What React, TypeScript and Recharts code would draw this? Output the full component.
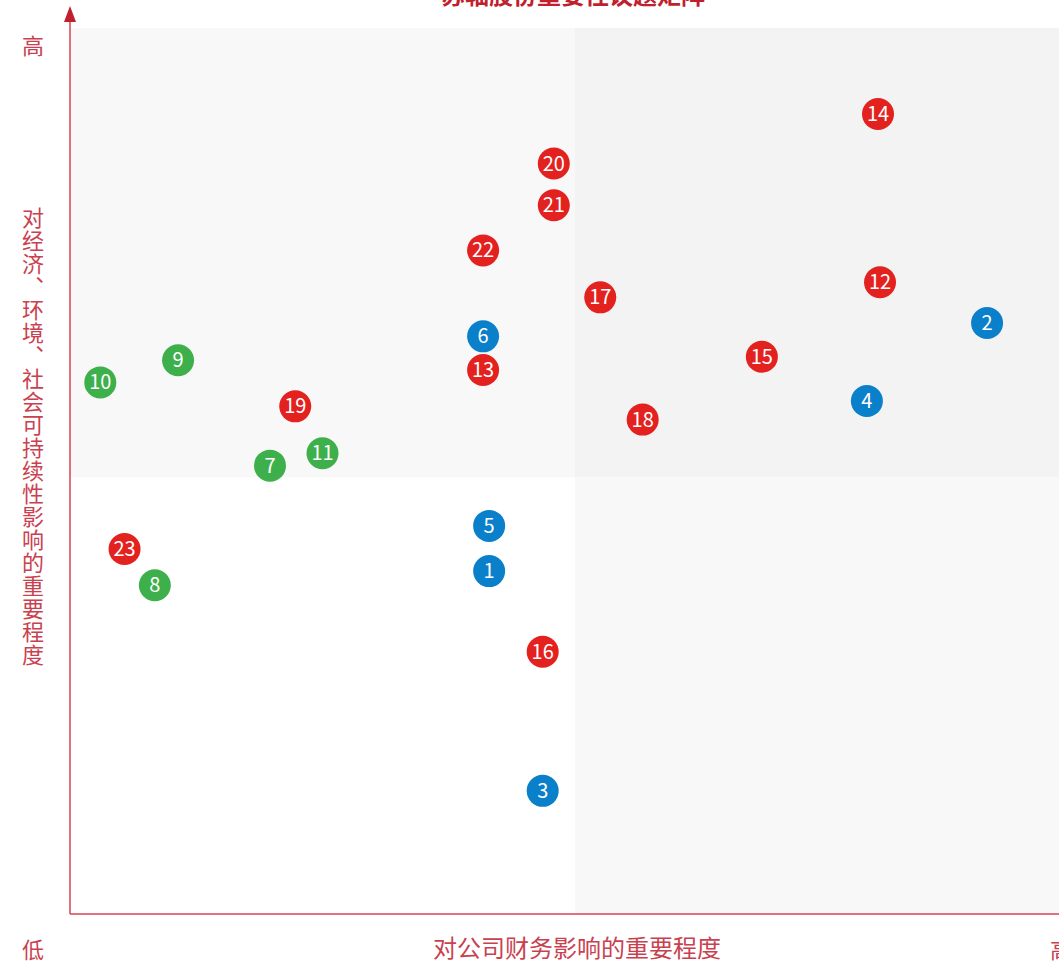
import { ReferenceArea, Scatter, ScatterChart, XAxis, YAxis } from "recharts";

const FONT = '"Noto Sans CJK SC", "Noto Sans", sans-serif';

const TITULO = "苏轴股份重要性议题矩阵";
const EJE_X = "对公司财务影响的重要程度";
const EJE_Y = "对经济、环境、社会可持续性影响的重要程度";
const ALTO = "高";
const BAJO = "低";

// número de tema, impacto financiero (x), impacto de sostenibilidad (y), grupo
const ids = [1, 2, 3, 4, 5, 6, 7, 8, 9, 10, 11, 12, 13, 14, 15, 16, 17, 18, 19, 20, 21, 22, 23];
const xValues = [41.5, 90.8, 46.8, 78.9, 41.5, 40.9, 19.8, 8.4, 10.7, 3.0, 25.0, 80.2, 40.9, 80.0, 68.5, 46.8, 52.5, 56.7, 22.3, 47.9, 47.9, 40.9, 5.4];
const yValues = [38.7, 66.7, 13.9, 57.9, 43.8, 65.2, 50.6, 37.1, 62.5, 60.0, 52.0, 71.3, 61.4, 90.3, 62.9, 29.6, 69.6, 55.8, 57.3, 84.7, 80.0, 74.9, 41.2];
const grupos = [
  "azul", "azul", "azul", "azul", "azul", "azul",
  "verde", "verde", "verde", "verde", "verde",
  "rojo", "rojo", "rojo", "rojo", "rojo", "rojo", "rojo", "rojo", "rojo", "rojo", "rojo", "rojo",
];

const DIVISION_X = 50;
const DIVISION_Y = 49.3;

const COLOR_GRUPO: Record<string, string> = {
  azul: "#0a7fca",
  verde: "#3db04b",
  rojo: "#e3211f",
};

const puntos = ids.map((id, i) => ({ id, x: xValues[i], y: yValues[i], grupo: grupos[i] }));

const ROJO_EJE = "#d64452";
const ROJO_TEXTO = "#c9414f";

function Burbuja(props: any) {
  const { cx, cy, payload, fill } = props;
  if (cx == null || cy == null) return null;
  return (
    <g>
      <circle cx={cx} cy={cy} r={16} fill={fill} />
      <text
        x={cx}
        y={cy + 7}
        textAnchor="middle"
        fill="#fff"
        fontSize={20}
        fontFamily={FONT}
      >
        {payload.id}
      </text>
    </g>
  );
}

export default function App() {
  return (
    <div
      style={{
        position: "absolute",
        left: 0,
        top: 0,
        width: 1059,
        height: 964,
        overflow: "hidden",
        background: "#fff",
        fontFamily: FONT,
      }}
    >
      <ScatterChart
        width={1100}
        height={964}
        margin={{ top: 28, left: 70, right: 20, bottom: 50 }}
      >
        <XAxis type="number" dataKey="x" domain={[0, 100]} hide />
        <YAxis type="number" dataKey="y" domain={[0, 100]} hide />
        <ReferenceArea x1={0} x2={DIVISION_X} y1={DIVISION_Y} y2={100} fill="#f8f8f8" fillOpacity={1} stroke="none" />
        <ReferenceArea x1={DIVISION_X} x2={100} y1={DIVISION_Y} y2={100} fill="#f3f3f3" fillOpacity={1} stroke="none" />
        <ReferenceArea x1={DIVISION_X} x2={100} y1={0} y2={DIVISION_Y} fill="#f8f8f8" fillOpacity={1} stroke="none" />
        {Object.keys(COLOR_GRUPO).map((g) => (
          <Scatter
            key={g}
            data={puntos.filter((p) => p.grupo === g)}
            fill={COLOR_GRUPO[g]}
            shape={<Burbuja />}
            isAnimationActive={false}
          />
        ))}
      </ScatterChart>

      <svg
        width={1059}
        height={964}
        style={{ position: "absolute", left: 0, top: 0, pointerEvents: "none" }}
      >
        <text
          x={573}
          y={4}
          textAnchor="middle"
          fontSize={24}
          fontWeight="bold"
          fill="#c01f2f"
          fontFamily={FONT}
        >
          {TITULO}
        </text>
        <line x1={70} y1={914} x2={70} y2={18} stroke={ROJO_EJE} strokeWidth={1.5} />
        <polygon points="64,22 76,22 70,6" fill="#c01f2f" />
        <line x1={70} y1={914} x2={1059} y2={914} stroke={ROJO_EJE} strokeWidth={1.5} />
        <text x={33} y={54} textAnchor="middle" fontSize={22} fill={ROJO_TEXTO} fontFamily={FONT}>
          {ALTO}
        </text>
        <text x={33} y={958} textAnchor="middle" fontSize={22} fill={ROJO_TEXTO} fontFamily={FONT}>
          {BAJO}
        </text>
        <text x={577} y={957} textAnchor="middle" fontSize={24} fill={ROJO_TEXTO} fontFamily={FONT}>
          {EJE_X}
        </text>
        <text x={1050} y={958} fontSize={22} fill={ROJO_TEXTO} fontFamily={FONT}>
          {ALTO}
        </text>
      </svg>

      <div
        style={{
          position: "absolute",
          left: 21,
          top: 207,
          writingMode: "vertical-rl",
          textOrientation: "upright",
          fontSize: 22,
          lineHeight: "24px",
          letterSpacing: 1,
          color: ROJO_TEXTO,
          fontFamily: FONT,
        }}
      >
        {EJE_Y}
      </div>
    </div>
  );
}
